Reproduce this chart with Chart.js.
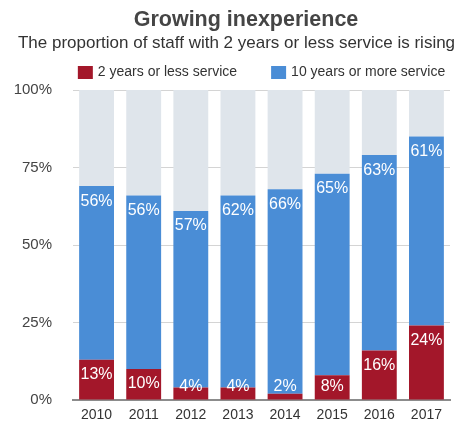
<!DOCTYPE html>
<html>
<head>
<meta charset="utf-8">
<script src="https://cdn.jsdelivr.net/npm/chart.js@4/dist/chart.umd.min.js"></script>
<style>
  html, body { margin: 0; padding: 0; background: #ffffff; overflow: hidden; }
  canvas { display: block; }
</style>
</head>
<body>
<canvas id="chart" width="473" height="421" style="width:473px;height:421px"></canvas>
<script>
// Share of staff by length of service, per year
const years = ['2010', '2011', '2012', '2013', '2014', '2015', '2016', '2017'];
const shortService = [13, 10, 4, 4, 2, 8, 16, 24];   // 2 years or less
const longService = [56, 56, 57, 62, 66, 65, 63, 61]; // 10 years or more
const otherService = years.map((_, i) => 100 - shortService[i] - longService[i]);
const yTicks = [0, 25, 50, 75, 100];

const titleText = 'Growing inexperience';
const subtitleText = 'The proportion of staff with 2 years or less service is rising';

const RED = '#a3172a';
const BLUE = '#4a8dd6';
const GREY = '#dfe5eb';
const FONT = '"Liberation Sans", Arial, Helvetica, sans-serif';

// Title, subtitle and legend drawn above the plot
const headerPlugin = {
  id: 'header',
  afterDraw(chart) {
    const ctx = chart.ctx;
    const area = chart.chartArea;
    ctx.save();
    ctx.textBaseline = 'middle';
    ctx.textAlign = 'center';
    ctx.fillStyle = '#454545';
    ctx.font = 'bold 21.5px ' + FONT;
    ctx.fillText(titleText, 246, 20);
    ctx.fillStyle = '#333333';
    ctx.font = '17px ' + FONT;
    ctx.fillText(subtitleText, 236.5, 43);

    // legend for the two labelled series
    ctx.font = '14px ' + FONT;
    ctx.textAlign = 'left';
    const items = chart.data.datasets.filter(d => d.showInLegend);
    const boxW = 15, boxH = 13, gap = 5, between = 34;
    const widths = items.map(d => boxW + gap + ctx.measureText(d.label).width);
    const total = widths.reduce((a, b) => a + b, 0) + between * (items.length - 1);
    let x = (area.left + area.right) / 2 - total / 2;
    const cy = 72.5;
    items.forEach((d, i) => {
      ctx.fillStyle = d.backgroundColor;
      ctx.fillRect(x, cy - boxH / 2, boxW, boxH);
      ctx.fillStyle = '#333333';
      ctx.fillText(d.label, x + boxW + gap, cy);
      x += widths[i] + between;
    });
    ctx.restore();
  }
};

// Value labels inside the red and blue segments
const valueLabelPlugin = {
  id: 'valueLabels',
  afterDatasetsDraw(chart) {
    const ctx = chart.ctx;
    ctx.save();
    ctx.font = '16px ' + FONT;
    ctx.fillStyle = '#ffffff';
    ctx.textAlign = 'center';
    ctx.textBaseline = 'middle';
    [0, 1].forEach(di => {
      const meta = chart.getDatasetMeta(di);
      const values = chart.data.datasets[di].data;
      meta.data.forEach((bar, i) => {
        let y = bar.y + 15;
        if (di === 0) y = Math.min(y, bar.base - 13);
        ctx.fillText(values[i] + '%', bar.x, y);
      });
    });
    ctx.restore();
  }
};

new Chart(document.getElementById('chart'), {
  type: 'bar',
  data: {
    labels: years,
    datasets: [
      { label: '2 years or less service', data: shortService, backgroundColor: RED, showInLegend: true },
      { label: '10 years or more service', data: longService, backgroundColor: BLUE, showInLegend: true },
      { label: 'Other', data: otherService, backgroundColor: GREY, showInLegend: false }
    ]
  },
  options: {
    responsive: false,
    animation: false,
    layout: { padding: { top: 90, right: 23, left: 0, bottom: 0 } },
    datasets: { bar: { barPercentage: 0.74, categoryPercentage: 1.0, borderWidth: 0 } },
    plugins: {
      legend: { display: false },
      title: { display: false },
      tooltip: { enabled: false }
    },
    scales: {
      x: {
        stacked: true,
        grid: { display: false, drawTicks: false },
        border: { display: true, color: '#8c8c8c', width: 2 },
        ticks: { color: '#333333', font: { family: FONT, size: 14 }, padding: 7 },
        afterFit(scale) { scale.height = 21; }
      },
      y: {
        stacked: true,
        min: 0,
        max: 100,
        afterBuildTicks(scale) { scale.ticks = yTicks.map(v => ({ value: v })); },
        grid: {
          drawTicks: true,
          tickLength: 21,
          tickColor: 'rgba(0,0,0,0)',
          color: ctx => (ctx.tick && ctx.tick.value === 0) ? 'rgba(0,0,0,0)' : '#d4d4d4',
          lineWidth: 1
        },
        border: { display: false },
        ticks: {
          color: '#444444',
          font: { family: FONT, size: 15 },
          padding: 0,
          callback: v => v + '%'
        },
        afterFit(scale) { scale.width = 73; }
      }
    }
  },
  plugins: [headerPlugin, valueLabelPlugin]
});
</script>
</body>
</html>
